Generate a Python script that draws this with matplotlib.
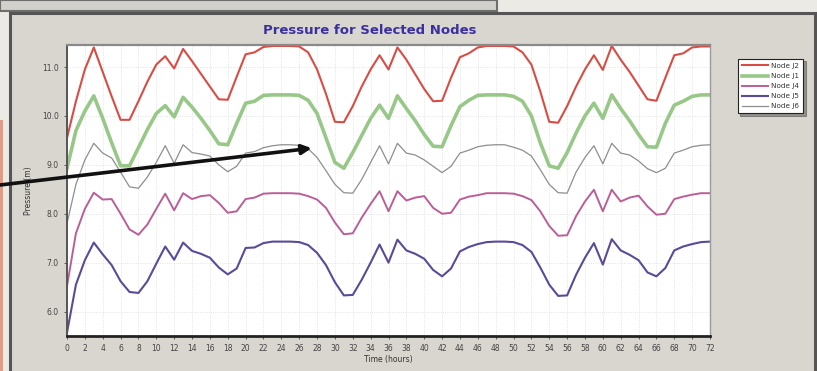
import matplotlib
matplotlib.use("Agg")
import matplotlib.pyplot as plt
from matplotlib.patches import Rectangle

# hourly pressures (m)
hours = list(range(73))
node_j2 = [9.55, 10.30, 10.95, 11.40, 10.90, 10.40, 9.92, 9.92, 10.30, 10.70,
           11.05, 11.22, 10.97, 11.37, 11.12, 10.86, 10.60, 10.34, 10.33, 10.80,
           11.26, 11.30, 11.41, 11.43, 11.43, 11.43, 11.42, 11.30, 10.95, 10.45,
           9.88, 9.87, 10.20, 10.60, 10.95, 11.24, 10.95, 11.40, 11.15, 10.85,
           10.55, 10.30, 10.31, 10.78, 11.20, 11.28, 11.40, 11.43, 11.43, 11.43,
           11.42, 11.30, 11.05, 10.50, 9.88, 9.86, 10.20, 10.60, 10.95, 11.24,
           10.94, 11.43, 11.15, 10.90, 10.62, 10.34, 10.31, 10.78, 11.24, 11.28,
           11.40, 11.42, 11.42]
node_j1 = [8.93, 9.70, 10.10, 10.41, 9.95, 9.45, 8.98, 8.98, 9.35, 9.72,
           10.05, 10.21, 9.98, 10.38, 10.18, 9.95, 9.70, 9.43, 9.41, 9.85,
           10.26, 10.30, 10.42, 10.43, 10.43, 10.43, 10.42, 10.32, 10.05, 9.55,
           9.05, 8.93, 9.25, 9.60, 9.95, 10.22, 9.95, 10.41, 10.15, 9.90,
           9.62, 9.38, 9.37, 9.80, 10.19, 10.32, 10.42, 10.43, 10.43, 10.43,
           10.40, 10.30, 10.00, 9.45, 8.98, 8.93, 9.25, 9.65, 10.00, 10.26,
           9.95, 10.43, 10.15, 9.90, 9.62, 9.37, 9.36, 9.85, 10.22, 10.30,
           10.40, 10.43, 10.43]
node_j4 = [6.52, 7.60, 8.10, 8.43, 8.29, 8.30, 8.00, 7.68, 7.57, 7.78,
           8.10, 8.41, 8.07, 8.42, 8.30, 8.36, 8.38, 8.22, 8.02, 8.05,
           8.30, 8.33, 8.41, 8.42, 8.42, 8.42, 8.41, 8.36, 8.29, 8.12,
           7.82, 7.58, 7.60, 7.92, 8.20, 8.46, 8.05, 8.46, 8.27, 8.33,
           8.36, 8.12, 8.00, 8.02, 8.29, 8.35, 8.38, 8.42, 8.42, 8.42,
           8.41, 8.36, 8.28, 8.05, 7.75, 7.55, 7.56, 7.95, 8.25, 8.49,
           8.05, 8.49, 8.25, 8.33, 8.37, 8.15, 7.98, 8.00, 8.30, 8.35,
           8.39, 8.42, 8.42]
node_j5 = [5.57, 6.55, 7.05, 7.41, 7.17, 6.95, 6.62, 6.40, 6.38, 6.62,
           6.98, 7.33, 7.06, 7.41, 7.24, 7.18, 7.10, 6.90, 6.76, 6.88,
           7.30, 7.31, 7.40, 7.43, 7.43, 7.43, 7.42, 7.36, 7.20, 6.95,
           6.60, 6.33, 6.34, 6.65, 7.00, 7.37, 7.00, 7.47, 7.25, 7.18,
           7.08, 6.85, 6.72, 6.88, 7.23, 7.32, 7.38, 7.42, 7.43, 7.43,
           7.42, 7.36, 7.22, 6.90, 6.55, 6.32, 6.33, 6.75, 7.10, 7.40,
           6.96, 7.48, 7.25, 7.16, 7.05, 6.80, 6.72, 6.89, 7.25, 7.33,
           7.38, 7.42, 7.43]
node_j6 = [7.80, 8.60, 9.10, 9.44, 9.24, 9.14, 8.85, 8.55, 8.52, 8.75,
           9.05, 9.39, 9.03, 9.41, 9.25, 9.22, 9.18, 9.00, 8.86, 8.97,
           9.24, 9.27, 9.35, 9.39, 9.41, 9.41, 9.40, 9.33, 9.15, 8.88,
           8.60, 8.43, 8.42, 8.70, 9.05, 9.39, 9.02, 9.44, 9.24, 9.20,
           9.10, 8.97, 8.84, 8.97, 9.24, 9.30, 9.37, 9.40, 9.41, 9.41,
           9.36, 9.30, 9.18, 8.90, 8.60, 8.43, 8.42, 8.85, 9.15, 9.39,
           9.02, 9.44, 9.24, 9.20, 9.08, 8.92, 8.84, 8.93, 9.24, 9.30,
           9.37, 9.40, 9.41]

series = [
    ("Node J2", node_j2, "#d94c44", 1.5),
    ("Node J1", node_j1, "#98c888", 2.6),
    ("Node J4", node_j4, "#bb5e98", 1.4),
    ("Node J5", node_j5, "#5a4a98", 1.5),
    ("Node J6", node_j6, "#8e8e8e", 0.9),
]
x_ticks = list(range(0, 73, 2))
y_ticks = [6, 7, 8, 9, 10, 11]

fig = plt.figure(figsize=(8.17, 3.71), dpi=100, facecolor="#eceae5")
W, H = 817.0, 371.0

# photo surroundings: box edge at the top and the chart panel (behind the axes)
fig.patches.append(Rectangle((0, 1 - 11 / H), 497 / W, 11 / H, transform=fig.transFigure,
                             facecolor="#d2d0cb", edgecolor="#6e6e6e", lw=1.5, zorder=-5))
fig.patches.append(Rectangle((10 / W, -0.05), 805 / W, 1.05 - 13 / H, transform=fig.transFigure,
                             facecolor="#d9d6cf", edgecolor="#555555", lw=2.2, zorder=-5))
fig.patches.append(Rectangle((0, 0), 3 / W, 1 - 120 / H, transform=fig.transFigure,
                             facecolor="#e59a86", edgecolor="none", zorder=-5))

ax = fig.add_axes([67 / W, 1 - 336 / H, (710 - 67) / W, (336 - 45) / H])
ax.set_facecolor("white")

for name, vals, col, lw in series:
    ax.plot(hours, vals, color=col, lw=lw, label=name, solid_joinstyle="round")

ax.set_xlim(0, 72)
ax.set_ylim(5.5, 11.45)
ax.set_xticks(x_ticks)
ax.set_xticklabels([str(t) for t in x_ticks])
ax.set_yticks(y_ticks)
ax.set_yticklabels(["%.1f" % v for v in y_ticks])
ax.tick_params(labelsize=5.5, colors="#444444", length=2.5, width=0.6)
ax.grid(True, color="#dcdcdc", lw=0.6, ls=":")

ax.spines["left"].set_color("#555555")
ax.spines["left"].set_linewidth(1.4)
ax.spines["bottom"].set_color("#222222")
ax.spines["bottom"].set_linewidth(2.0)
ax.spines["top"].set_color("#8a8a8a")
ax.spines["top"].set_linewidth(1.6)
ax.spines["right"].set_color("#9a9a9a")
ax.spines["right"].set_linewidth(1.0)

ax.set_xlabel("Time (hours)", fontsize=5.5, color="#333333", labelpad=1)
ax.set_ylabel("Pressure (m)", fontsize=5.5, color="#333333", labelpad=6)

fig.text(370 / W, 1 - 31 / H, "Pressure for Selected Nodes", ha="center", va="center",
         fontsize=9.5, fontweight="bold", color="#3a30a0")

leg = ax.legend(loc="upper left", bbox_to_anchor=(734 / W, 1 - 55 / H),
                bbox_transform=fig.transFigure, fontsize=5.2, frameon=True,
                fancybox=False, shadow=True, handlelength=3.6, handletextpad=0.4,
                borderpad=0.6, labelspacing=0.55)
leg.get_frame().set_edgecolor("#222222")
leg.get_frame().set_linewidth(0.8)
for t in leg.get_texts():
    t.set_color("#333333")

# arrow pointing at the grey node
ax.annotate("", xy=(27.4, 9.34), xycoords="data",
            xytext=(0, 1 - 185 / H), textcoords="figure fraction",
            arrowprops=dict(arrowstyle="-|>", color="#111111", lw=2.6,
                            mutation_scale=14, shrinkA=0, shrinkB=0),
            annotation_clip=False)

fig.savefig("out.png", dpi=100, facecolor=fig.get_facecolor())
